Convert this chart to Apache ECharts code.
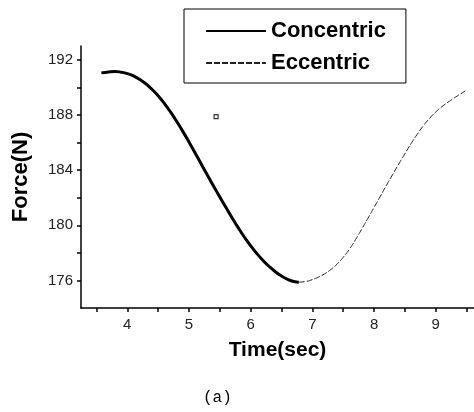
<!DOCTYPE html>
<html>
<head>
<meta charset="utf-8">
<script src="https://cdn.jsdelivr.net/npm/echarts@6/dist/echarts.min.js"></script>
<style>
html,body{margin:0;padding:0;background:#fff;}
#chart{width:474px;height:412px;}
</style>
</head>
<body>
<div id="chart"></div>
<script>
// ---- data ----
const concentricTime = [3.58,3.7,3.8,3.9,4.0,4.1,4.2,4.3,4.4,4.5,4.6,4.7,4.8,4.9,5.0,5.1,5.2,5.3,5.4,5.5,5.6,5.7,5.8,5.9,6.0,6.1,6.2,6.3,6.4,6.5,6.6,6.7,6.78];
const concentricForce = [191.05,191.12,191.15,191.10,191.00,190.83,190.58,190.26,189.86,189.39,188.84,188.22,187.54,186.81,186.04,185.24,184.43,183.62,182.83,182.05,181.28,180.53,179.81,179.13,178.51,177.95,177.45,177.01,176.63,176.32,176.08,175.92,175.87];
const eccentricTime = [6.78,6.9,7.0,7.1,7.2,7.3,7.4,7.5,7.6,7.7,7.8,7.9,8.0,8.1,8.2,8.3,8.4,8.5,8.6,8.7,8.8,8.9,9.0,9.1,9.2,9.3,9.4,9.48];
const eccentricForce = [175.87,175.93,176.06,176.24,176.48,176.79,177.18,177.68,178.26,178.96,179.72,180.50,181.29,182.09,182.89,183.67,184.44,185.19,185.92,186.60,187.22,187.76,188.22,188.60,188.93,189.23,189.52,189.75];
const markerTime = [5.44];
const markerForce = [187.88];
const xTickLabels = [4,5,6,7,8,9];
const xTicks = [3.5,4,4.5,5,5.5,6,6.5,7,7.5,8,8.5,9,9.5];
const yTickLabels = [176,180,184,188,192];
const yTicks = [176,178,180,182,184,186,188,190,192];

const zip = (a,b) => a.map((v,i) => [v,b[i]]);

const chart = echarts.init(document.getElementById('chart'), null, {renderer:'canvas'});
chart.setOption({
  animation:false,
  backgroundColor:'#fff',
  grid:{left:81, top:46, right:0, bottom:104, containLabel:false},
  legend:{
    orient:'vertical',
    left:184, top:9,
    padding:[11,20,9,21],
    itemGap:10,
    itemWidth:60, itemHeight:20,
    borderColor:'#000', borderWidth:1,
    backgroundColor:'#fff',
    itemStyle:{color:'rgba(0,0,0,0)', borderColor:'rgba(0,0,0,0)', borderWidth:0, opacity:0},
    textStyle:{fontFamily:'Liberation Sans, Arial, sans-serif', fontWeight:'bold', fontSize:22, color:'#000', padding:[0,0,0,0]},
    data:['Concentric','Eccentric']
  },
  xAxis:{
    type:'value', min:3.25, max:9.62,
    name:'Time(sec)', nameLocation:'middle', nameGap:32,
    nameTextStyle:{fontFamily:'Liberation Sans, Arial, sans-serif', fontWeight:'bold', fontSize:21, color:'#000'},
    axisLine:{show:true, lineStyle:{color:'#000', width:1.5}},
    axisTick:{show:true, inside:false, length:4, customValues:xTicks, lineStyle:{color:'#000', width:1.5}},
    axisLabel:{customValues:xTickLabels, margin:9, fontFamily:'Liberation Sans, Arial, sans-serif', fontSize:15, color:'#222'},
    splitLine:{show:false}
  },
  yAxis:{
    type:'value', min:174, max:193,
    name:'Force(N)', nameLocation:'middle', nameGap:49,
    nameTextStyle:{fontFamily:'Liberation Sans, Arial, sans-serif', fontWeight:'bold', fontSize:22, color:'#000'},
    axisLine:{show:true, lineStyle:{color:'#000', width:1.5}},
    axisTick:{show:true, inside:false, length:4, customValues:yTicks, lineStyle:{color:'#000', width:1.5}},
    axisLabel:{customValues:yTickLabels, margin:8, fontFamily:'Liberation Sans, Arial, sans-serif', fontSize:15, color:'#222'},
    splitLine:{show:false}
  },
  series:[
    {name:'Concentric', type:'line', data:zip(concentricTime, concentricForce), smooth:true, showSymbol:false, symbol:'none',
     lineStyle:{color:'#000', width:3}, itemStyle:{color:'#000'}},
    {name:'Eccentric', type:'line', data:zip(eccentricTime, eccentricForce), smooth:true, showSymbol:false, symbol:'none',
     lineStyle:{color:'#222', width:1, type:[6,2]}, itemStyle:{color:'#222'}},
    {name:'marker', type:'scatter', data:zip(markerTime, markerForce), symbol:'rect', symbolSize:4,
     itemStyle:{color:'#fff', borderColor:'#000', borderWidth:1.2}}
  ],
  graphic:[
    {type:'text', left:203, top:390, style:{text:'(a)', font:'16px "Liberation Mono", monospace', fill:'#000'}}
  ]
});
</script>
</body>
</html>
